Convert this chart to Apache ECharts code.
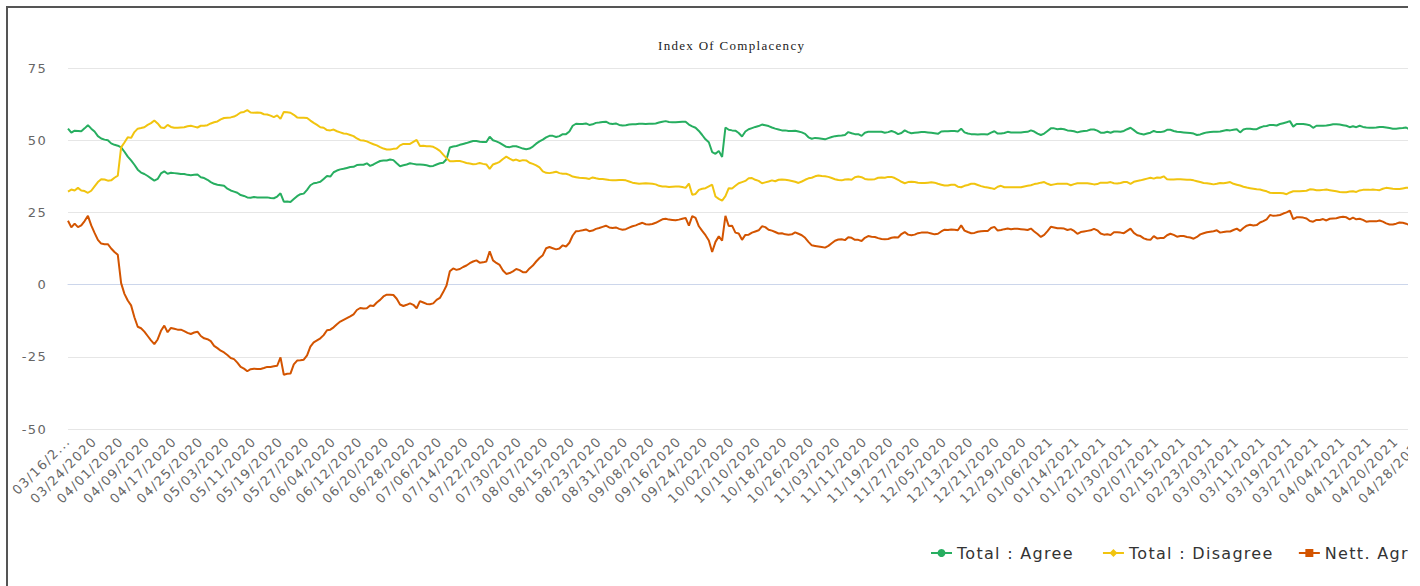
<!DOCTYPE html>
<html>
<head>
<meta charset="utf-8">
<title>Index Of Complacency</title>
<script src="https://cdn.jsdelivr.net/npm/echarts@6.0.0/dist/echarts.min.js"></script>
<style>
  body { margin: 0; background: #fff; }
  .frame {
    position: absolute;
    left: 6px;
    top: 6px;
    width: 1400px;
    height: 580px;
    overflow: hidden;
    border-left: 2px solid #555;
    border-top: 2px solid #555;
  }
  #chart { width: 1460px; height: 580px; }
  /* the original texts are drawn a little spread out */
  #chart text { letter-spacing: 1.3px; }
</style>
</head>
<body>
<div class="frame"><div id="chart"></div></div>
<script>
// one value per day, starting 03/16/2020
const startDay = Date.UTC(2020, 2, 16);
const dayCount = 413;

const agree = [
  54, 52.6, 53.3, 53.2, 53.1, 54.1, 55.2, 54, 53, 51.4,
  50.6, 50.2, 50, 48.9, 48.4, 48.1, 47.5, 46, 44.3, 43,
  41.5, 39.8, 38.8, 38.3, 37.6, 36.8, 36, 36.6, 38.5, 39.2,
  38.4, 38.7, 38.6, 38.5, 38.3, 38.3, 38, 37.9, 38, 38.1,
  37.2, 36.9, 36.3, 35.5, 34.9, 34.6, 34.4, 34.2, 33.2, 32.6,
  32.2, 31.8, 31, 30.7, 30.2, 30.1, 30.3, 30.2, 30.2, 30.2,
  30.2, 30, 29.9, 30.5, 31.6, 28.7, 28.8, 28.6, 29.6, 30.6,
  31.3, 31.5, 32.8, 34.4, 35.1, 35.3, 35.6, 36.6, 37.6, 37.4,
  38.9, 39.5, 39.9, 40.1, 40.4, 40.7, 40.8, 41.4, 41.5, 41.5,
  42, 41.1, 41.6, 42.2, 42.8, 43, 43, 43.3, 43.1, 42,
  41, 41.3, 41.6, 42, 41.8, 41.6, 41.6, 41.5, 41.3, 41,
  41.1, 41.6, 42, 42.2, 43.4, 47.5, 47.8, 48, 48.4, 48.7,
  49, 49.4, 49.7, 49.7, 49.5, 49.4, 49.4, 51.2, 50, 49.6,
  49.1, 48.4, 47.7, 47.6, 47.9, 47.9, 47.5, 47.1, 46.9, 47.1,
  47.8, 48.8, 49.6, 50.2, 51, 51.5, 51.5, 51.1, 51.4, 52.1,
  52.1, 53, 55, 55.7, 55.6, 55.6, 55.8, 55.3, 55.5, 56,
  56.1, 56.3, 56.4, 55.8, 55.6, 55.8, 55.3, 55.1, 55.2, 55.4,
  55.5, 55.5, 55.7, 55.7, 55.6, 55.7, 55.7, 55.8, 56.1, 56.4,
  56.6, 56.3, 56.2, 56.2, 56.3, 56.4, 56.4, 55.4, 54.8, 54.3,
  53.2, 51.8, 50.3, 49.3, 45.9, 45.3, 46.3, 44.2, 54.4, 53.6,
  53.4, 53.3, 52.5, 51.3, 53, 53.8, 54.2, 54.6, 54.9, 55.4,
  55.2, 54.9, 54.4, 54, 53.7, 53.4, 53.4, 53.2, 53.2, 53.3,
  53, 52.7, 52.2, 51, 50.5, 50.8, 50.7, 50.5, 50.3, 50.7,
  51.1, 51.4, 51.5, 51.6, 51.8, 52.8, 52.4, 52.1, 52.1, 51.5,
  52.6, 52.9, 52.9, 52.9, 52.9, 52.9, 52.6, 52.8, 53.2, 52.8,
  52.1, 52.5, 53.4, 52.8, 52.4, 52.6, 52.7, 52.8, 52.8, 52.7,
  52.6, 52.4, 52.2, 53, 53.1, 53.1, 53.2, 53.2, 53, 54,
  52.7, 52.3, 52.1, 52.1, 52, 52.1, 52.1, 52, 52.6, 53.1,
  52.3, 52.3, 52.5, 52.9, 52.7, 52.7, 52.7, 52.7, 52.8, 52.9,
  53.4, 53, 52.3, 51.8, 52.3, 53.2, 54.1, 54.1, 53.8, 54,
  53.8, 53.4, 53.3, 53.1, 52.7, 53, 53.2, 53.3, 53.7, 53.7,
  53.3, 52.6, 52.6, 52.9, 52.6, 53, 53, 52.9, 53.2, 53.8,
  54.3, 53.5, 52.6, 52.2, 52, 52.3, 52.6, 53.2, 52.8, 52.8,
  53, 53.6, 53.6, 53.2, 52.9, 52.8, 52.7, 52.6, 52.5, 52.3,
  51.8, 52, 52.4, 52.7, 52.8, 52.9, 52.9, 53, 53.3, 53.5,
  53.4, 53.6, 53.8, 52.7, 53.7, 54, 54, 53.8, 53.8, 54.4,
  54.8, 54.9, 55.3, 55.3, 55.1, 55.6, 55.9, 56.2, 56.6, 54.7,
  55.6, 55.6, 55.6, 55.4, 55.2, 54.3, 55, 55, 55, 55.1,
  55.3, 55.5, 55.5, 55.4, 55.2, 55, 54.5, 54.8, 54.5, 55,
  54.6, 54.4, 54.3, 54.3, 54.4, 54.6, 54.6, 54.4, 54.2, 54,
  54, 54.1, 54.2, 54.4, 53.7
];

const disagree = [
  32.2, 32.9, 32.6, 33.5, 32.6, 32.4, 31.8, 32.5, 34, 35.5,
  36.5, 36.4, 36, 36.1, 37, 37.7, 47.5, 49.2, 51, 50.8,
  52.8, 54, 54.2, 54.5, 55.3, 55.9, 56.8, 55.8, 54.4, 54.2,
  55.3, 54.6, 54.3, 54.3, 54.4, 54.5, 54.8, 55, 54.7, 54.4,
  55, 55, 55.2, 55.8, 56.2, 56.5, 57.2, 57.7, 57.8, 57.9,
  58.2, 58.8, 59.6, 59.8, 60.4, 59.6, 59.5, 59.6, 59.5, 59,
  58.9, 58.5, 58, 58.6, 57.4, 59.8, 59.7, 59.5, 58.8, 57.9,
  57.8, 57.8, 57.7, 56.8, 56, 55.3, 54.5, 54.3, 53.5, 53.4,
  53.7, 53.1, 52.7, 52.3, 52.2, 51.8, 51.4, 50.6, 50, 49.9,
  49.6, 49.1, 48.6, 48.2, 47.6, 47.1, 46.8, 46.8, 47, 47.1,
  48.2, 48.7, 48.7, 48.7, 49.4, 50.1, 48, 48.1, 47.9, 47.9,
  47.7, 47.1, 46.3, 45, 43.8, 42.7, 42.7, 42.8, 42.8, 42.5,
  42.1, 41.9, 41.7, 41.8, 42.1, 41.8, 41.6, 40.1, 41.6, 42,
  42.5, 43.5, 44.3, 43.6, 43, 43.3, 42.8, 43.1, 43, 42.2,
  41.8, 41.3, 40.6, 39.2, 38.7, 38.6, 38.8, 39.1, 38.6, 38.4,
  38.4, 38, 37.4, 37.2, 37, 36.9, 36.8, 36.6, 37.1, 36.8,
  36.6, 36.6, 36.4, 36.2, 36.1, 36.1, 36.2, 36.2, 36.1, 35.7,
  35.3, 35.1, 34.9, 35, 35.1, 35, 34.9, 34.7, 34.2, 34,
  34, 33.8, 33.9, 34, 34, 33.8, 33.5, 35, 31.1, 31.4,
  32.8, 33.2, 33.4, 34, 34.6, 30.5, 29.7, 29.1, 30.6, 33.4,
  33.3, 34.2, 35.1, 35.5, 35.9, 36.8, 36.9, 36.3, 35.9, 35.1,
  35.4, 35.7, 36.1, 35.8, 36.3, 36.4, 36.3, 36.1, 35.9, 35.6,
  35.2, 35.7, 36.3, 36.8, 37, 37.5, 37.8, 37.6, 37.5, 37.3,
  36.9, 36.5, 36.2, 36.1, 36.4, 36.5, 36.3, 37.2, 37.4, 37.2,
  36.6, 36.4, 36.4, 36.5, 37, 37.1, 37, 37.3, 37.3, 36.9,
  36.3, 35.6, 35.1, 35.5, 35.6, 35.5, 35.3, 35.2, 35.2, 35.3,
  35.4, 35.3, 34.9, 34.6, 34.3, 34.3, 34.6, 34.6, 33.9, 33.7,
  34.2, 34.5, 34.9, 34.9, 34.5, 34.1, 33.8, 33.6, 33.4, 33.1,
  33.9, 34.2, 33.7, 33.7, 33.7, 33.7, 33.7, 33.7, 34, 34.2,
  34.4, 34.8, 35, 35.3, 35.5, 34.9, 34.5, 34.7, 34.9, 34.9,
  34.9, 34.9, 34.4, 34.8, 35.1, 35.1, 35.1, 35.1, 34.9, 34.7,
  34.8, 35.3, 35.3, 35.3, 35.5, 35.1, 35, 35.2, 35.5, 35.5,
  34.9, 35.6, 35.9, 36.1, 36.4, 36.7, 37, 36.7, 37.1, 37,
  37.5, 36.5, 36.4, 36.4, 36.5, 36.5, 36.4, 36.3, 36.3, 36.1,
  35.8, 35.5, 35.2, 35.1, 34.9, 34.7, 34.9, 35.2, 35.1, 35.3,
  35.5, 34.9, 34.6, 34.3, 33.9, 33.6, 33.4, 33.2, 33, 32.9,
  32.6, 32.3, 31.8, 31.7, 31.7, 31.7, 31.6, 31.3, 31.9, 32.3,
  32.3, 32.3, 32.4, 32.5, 33, 32.9, 32.7, 32.7, 32.8, 32.9,
  32.7, 32.5, 32.3, 32.1, 32, 32, 32.2, 32.3, 32.1, 32.6,
  32.8, 32.8, 32.8, 32.9, 32.8, 32.7, 33.2, 33.5, 33.4, 33.2,
  33.1, 33.1, 33.3, 33.5, 33.5
];

const nettAgree = [
  22.1, 19.8, 21.1, 19.9, 20.5, 22, 23.8, 20.5, 17.9, 15.5,
  14.2, 14, 14, 12.5, 11.3, 10.3, 0.5, -3.2, -5.5, -7.2,
  -11.3, -14.6, -15.1, -16.3, -17.8, -19.3, -20.6, -19, -16, -14.2,
  -16.5, -15, -15.3, -15.6, -15.6, -16.1, -16.7, -17.1, -16.6, -16.3,
  -17.8, -18.6, -18.9, -19.6, -21.2, -22, -22.9, -23.5, -24.4, -25.4,
  -25.8, -27, -28.5, -29.1, -30, -29.3, -29.1, -29.2, -29.2, -28.9,
  -28.5, -28.5, -28.3, -28.1, -25.2, -31.2, -30.9, -30.8, -27.6, -26.3,
  -26.2, -26, -24.5, -21.5, -20, -19.3, -18.6, -17.5, -15.8, -15.6,
  -14.8, -13.7, -12.8, -12.2, -11.6, -11, -10.3, -8.8, -8.1, -8.3,
  -8.2, -7.2, -7.4, -6.2, -5.3, -4.1, -3.5, -3.5, -3.6, -4.9,
  -6.9, -7.4, -7, -6.5, -7, -8.2, -5.7, -6.2, -6.7, -6.8,
  -6.5, -5.3, -4.6, -2.6, -0.3, 4.6, 5.6, 5.1, 5.4, 6.1,
  6.6, 7.4, 8, 8.4, 7.6, 7.7, 8, 11.5, 8.4, 7.5,
  6.8, 4.9, 3.7, 4, 4.6, 5.4, 5, 4.3, 4.3, 5.6,
  6.6, 8, 9.2, 10.2, 12.6, 13, 12.6, 12.2, 12.5, 13.6,
  13.2, 14.5, 17, 18.5, 18.6, 18.8, 19.1, 18.5, 18.7, 19.3,
  19.6, 20, 20.4, 19.8, 19.6, 19.8, 19.3, 19, 19.2, 19.7,
  20.2, 20.5, 21, 21.4, 20.9, 20.8, 21, 21.4, 22, 22.6,
  22.8, 22.5, 22.4, 22.3, 22.5, 22.8, 23.1, 20.4, 23.7, 23.1,
  20.2, 18.6, 17.1, 15.3, 11.3, 14.8, 16.7, 15.2, 23.8, 20.3,
  20.4, 18, 17.7, 15.5, 17.2, 17.3, 18, 18.4, 18.8, 20.2,
  19.9, 19, 18.7, 18.2, 17.7, 17.8, 17.4, 17.3, 17.4, 18.1,
  17.6, 17.1, 16.2, 14.8, 13.6, 13.4, 13.2, 13, 12.8, 13.4,
  14.3, 15.2, 15.6, 15.7, 15.4, 16.4, 16.2, 15.5, 15.5, 15.1,
  16.2, 16.8, 16.6, 16.5, 16.1, 15.8, 15.7, 15.8, 16.2, 16.4,
  16.3, 17.5, 18.2, 17.3, 17.1, 17.3, 17.8, 18, 18, 18,
  17.7, 17.4, 17.6, 18.4, 19, 18.9, 19.1, 19, 18.8, 20.5,
  18.7, 18.2, 17.8, 17.9, 18.3, 18.5, 18.6, 18.6, 19.6, 20,
  18.7, 18.9, 19.2, 19.4, 19.2, 19.3, 19.3, 19.2, 19.1, 18.9,
  19.4, 18.4, 17.5, 16.5, 17.2, 18.5, 20, 19.8, 19.5, 19.5,
  19.4, 18.9, 19.2, 18.6, 17.6, 18.2, 18.4, 18.6, 18.8, 19.3,
  18.8, 17.7, 17.3, 17.4, 17.2, 18.1, 18.1, 18, 17.8, 18.6,
  19.4, 17.9, 17.1, 16.8, 16, 15.6, 15.5, 16.8, 16, 16.1,
  16.1, 17.1, 17.6, 17.2, 16.6, 16.8, 16.8, 16.5, 16.3, 15.9,
  16.5, 17.4, 17.8, 18.1, 18.3, 18.5, 18.8, 18, 18.2, 18.4,
  18.4, 18.9, 19.4, 18.6, 19.6, 20.4, 20.7, 20.5, 20.6, 21.5,
  22, 22.6, 24.1, 23.8, 23.9, 24.1, 24.6, 25, 25.6, 22.7,
  23.3, 23.3, 23.2, 22.9, 22, 21.8, 22.4, 22.4, 22.7, 22.2,
  22.8, 22.9, 23, 23.3, 23.5, 23.3, 22.6, 23.2, 22.6, 22.8,
  22.4, 21.8, 21.9, 21.9, 21.9, 22.2, 21.8, 21.2, 20.8, 20.8,
  21.1, 21.5, 21.4, 21.1, 20.6
];

const seriesNames = ["Total : Agree", "Total : Disagree", "Nett. Agree"];
const seriesColors = ["#27ae60", "#f1c40f", "#d35400"];
const seriesSymbols = ["circle", "diamond", "rect"];

const yMin = -50;
const yMax = 75;
const yStep = 25;

function pad(n) {
  return n < 10 ? "0" + n : "" + n;
}

const dates = [];
for (let i = 0; i < dayCount; i++) {
  const d = new Date(startDay + i * 86400000);
  dates.push(pad(d.getUTCMonth() + 1) + "/" + pad(d.getUTCDate()) + "/" + d.getUTCFullYear());
}

const chart = echarts.init(document.getElementById("chart"), null, { renderer: "svg" });

const values = [agree, disagree, nettAgree];

chart.setOption({
  animation: false,
  backgroundColor: "#fff",
  title: {
    text: "Index Of Complacency",
    left: 650,
    top: 31,
    padding: 0,
    textStyle: {
      fontFamily: "Liberation Serif",
      fontSize: 13,
      fontWeight: "normal",
      color: "#222",
    },
  },
  legend: {
    left: 922,
    top: 537,
    padding: 0,
    itemWidth: 21,
    itemHeight: 10,
    itemGap: 45,
    textStyle: {
      fontFamily: "DejaVu Sans",
      fontSize: 16,
      color: "#333",
    },
    data: seriesNames,
  },
  grid: {
    left: 60,
    right: 32,
    top: 60,
    bottom: 159,
  },
  xAxis: {
    type: "category",
    data: dates,
    boundaryGap: false,
    axisLine: { lineStyle: { color: "#ccd6eb" } },
    axisTick: { show: false },
    axisLabel: {
      interval: 7,
      rotate: 45,
      margin: 10,
      color: "#666",
      fontFamily: "DejaVu Sans",
      fontSize: 13,
      formatter: (value, index) => (index === 0 ? value.slice(0, 7) + "..." : value),
    },
    splitLine: { show: false },
  },
  yAxis: {
    type: "value",
    min: yMin,
    max: yMax,
    interval: yStep,
    axisLine: { show: false },
    axisTick: { show: false },
    axisLabel: {
      margin: 21,
      color: "#666",
      fontFamily: "DejaVu Sans",
      fontSize: 13,
    },
    splitLine: { lineStyle: { color: "#e6e6e6" } },
  },
  series: seriesNames.map((name, i) => ({
    name,
    type: "line",
    data: values[i],
    symbol: seriesSymbols[i],
    showSymbol: false,
    color: seriesColors[i],
    lineStyle: { width: 2 },
  })),
});
</script>
</body>
</html>
